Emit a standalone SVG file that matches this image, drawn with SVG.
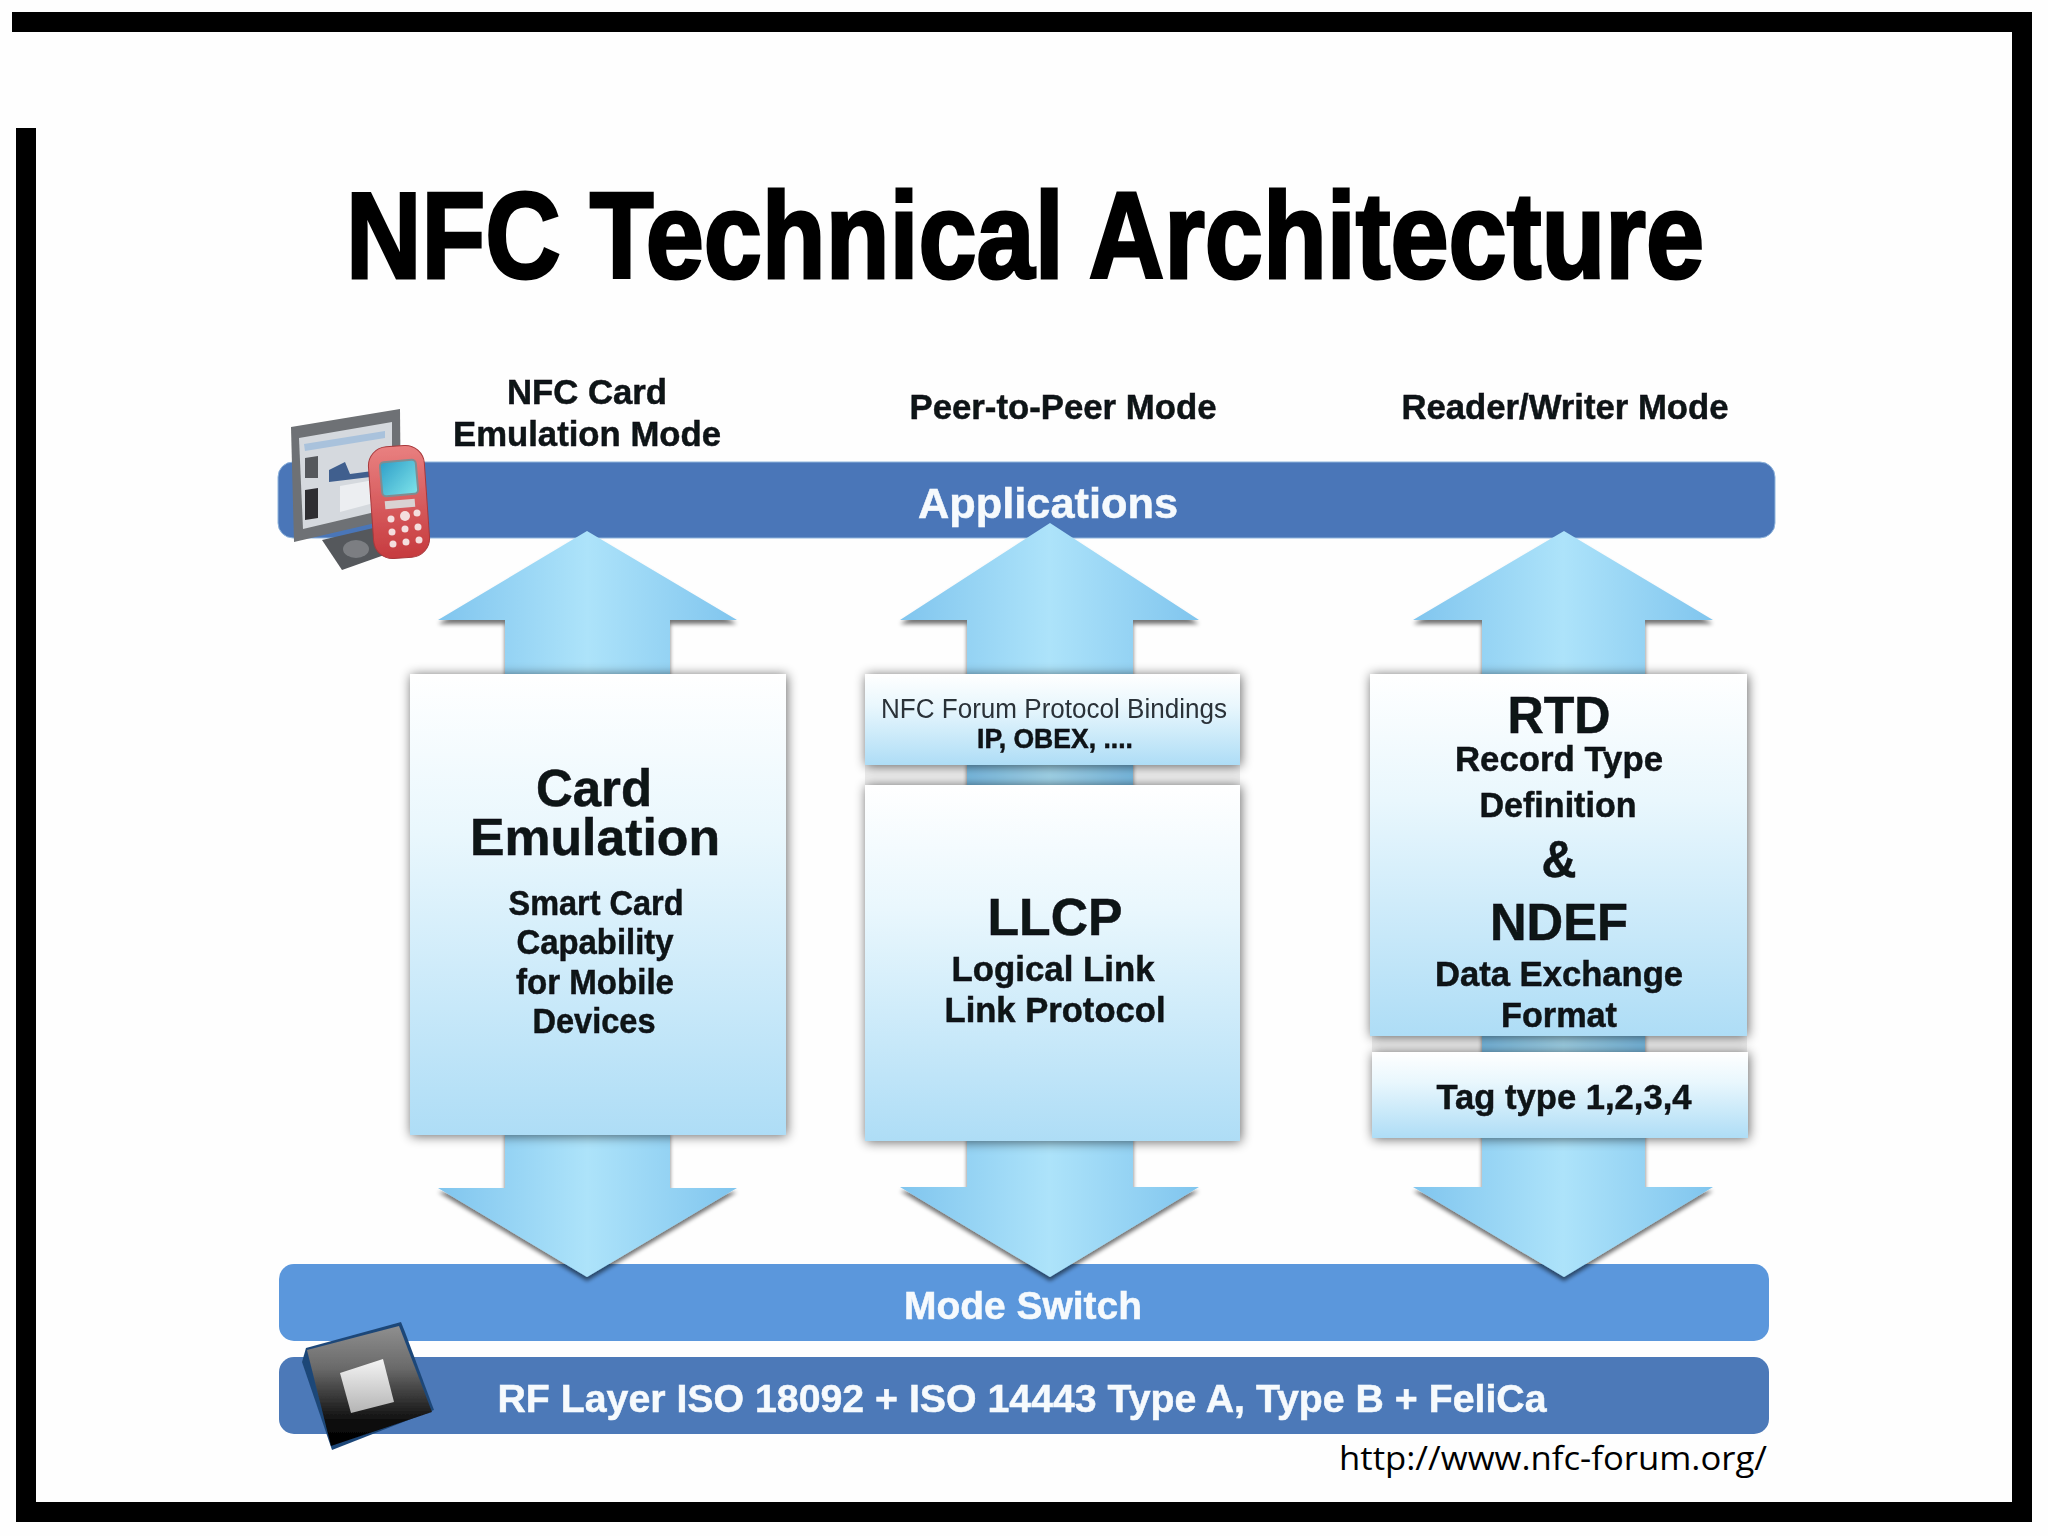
<svg xmlns="http://www.w3.org/2000/svg" width="2048" height="1536" viewBox="0 0 2048 1536">
<defs>
<linearGradient id="boxFill" x1="0" y1="0" x2="0" y2="1"><stop offset="0" stop-color="#ffffff"/><stop offset="0.35" stop-color="#e9f7fd"/><stop offset="1" stop-color="#aeddf6"/></linearGradient>
<linearGradient id="arrowFill" x1="0" y1="0" x2="1" y2="0"><stop offset="0" stop-color="#80c5ee"/><stop offset="0.5" stop-color="#ade3fa"/><stop offset="1" stop-color="#80c5ee"/></linearGradient>
<linearGradient id="chipFill" x1="0" y1="0" x2="0" y2="1"><stop offset="0" stop-color="#8f8f8f"/><stop offset="0.35" stop-color="#6a6a6a"/><stop offset="0.8" stop-color="#0c0c0c"/><stop offset="1" stop-color="#000"/></linearGradient>
<linearGradient id="chipCore" x1="0" y1="0" x2="0" y2="1"><stop offset="0" stop-color="#f4f4f4"/><stop offset="1" stop-color="#b4b4b4"/></linearGradient>
<linearGradient id="phoneFill" x1="0" y1="0" x2="0" y2="1"><stop offset="0" stop-color="#e98080"/><stop offset="1" stop-color="#c63a3e"/></linearGradient>
<linearGradient id="phoneScreen" x1="0" y1="0" x2="1" y2="1"><stop offset="0" stop-color="#2f9fc8"/><stop offset="1" stop-color="#7fe4ea"/></linearGradient>
<filter id="boxShadow" x="-10%" y="-15%" width="120%" height="130%"><feGaussianBlur in="SourceAlpha" stdDeviation="6"/><feOffset dx="1" dy="1"/><feComponentTransfer><feFuncA type="linear" slope="0.6"/></feComponentTransfer><feMerge><feMergeNode/><feMergeNode in="SourceGraphic"/></feMerge></filter>
<filter id="arrowShadow" x="-10%" y="-10%" width="120%" height="120%"><feGaussianBlur in="SourceAlpha" stdDeviation="2"/><feOffset dy="4"/><feComponentTransfer><feFuncA type="linear" slope="0.55"/></feComponentTransfer><feMerge><feMergeNode/><feMergeNode in="SourceGraphic"/></feMerge></filter>
<filter id="soft" x="-5%" y="-5%" width="110%" height="110%"><feGaussianBlur stdDeviation="0.7"/></filter>
</defs>
<style>
text{font-family:"Liberation Sans",Arial,sans-serif;font-weight:700;text-anchor:middle;fill:#0e1216;stroke:#0e1216;stroke-width:.5px}
.w{fill:#f6fafd;stroke:#f6fafd}
.t34{font-size:35px}
.t50{font-size:52px}
.reg{font-weight:400;fill:#2a3138;stroke:none}
.title{font-size:122px;fill:#000;stroke:#000;stroke-width:3px}
.url{font-family:"Open Sans",sans-serif;font-weight:400;font-size:33px;fill:#000;stroke:none;text-anchor:start}
.shade{fill:#000;opacity:.07}
</style>
<rect width="2048" height="1536" fill="#fefefe"/>
<g id="frame" fill="#000">
<rect x="12" y="12" width="2020" height="20"/>
<rect x="2012" y="12" width="20" height="1510"/>
<rect x="16" y="1502" width="2016" height="20"/>
<rect x="16" y="128" width="20" height="1394"/>
</g>
<text class="title" x="1025" y="278" textLength="1358" lengthAdjust="spacingAndGlyphs">NFC Technical Architecture</text>

<g id="mode-labels" filter="url(#soft)">
<text class="t34" x="587" y="404" textLength="160" lengthAdjust="spacingAndGlyphs">NFC Card</text>
<text class="t34" x="587" y="446" textLength="268" lengthAdjust="spacingAndGlyphs">Emulation Mode</text>
<text class="t34" x="1063" y="419" textLength="307" lengthAdjust="spacingAndGlyphs">Peer-to-Peer Mode</text>
<text class="t34" x="1565" y="419" textLength="327" lengthAdjust="spacingAndGlyphs">Reader/Writer Mode</text>
</g>

<g id="applications">
<rect x="278" y="462" width="1497" height="76" rx="15" fill="#4a76b8" stroke="#8fb4dc" stroke-width="1"/>
<text class="w" x="1048" y="518" font-size="43" textLength="260" lengthAdjust="spacingAndGlyphs" filter="url(#soft)">Applications</text>
</g>
<g id="mode-switch">
<rect x="279" y="1264" width="1490" height="77" rx="15" fill="#5b97dc"/>
<text class="w" x="1023" y="1319" font-size="39" textLength="238" lengthAdjust="spacingAndGlyphs" filter="url(#soft)">Mode Switch</text>
</g>
<g id="rf-layer">
<rect x="279" y="1357" width="1490" height="77" rx="15" fill="#4c79b8"/>
<text class="w" x="1022" y="1412" font-size="39" textLength="1049" lengthAdjust="spacingAndGlyphs" filter="url(#soft)">RF Layer ISO 18092 + ISO 14443 Type A, Type B + FeliCa</text>
</g>

<g id="connectors" fill="url(#arrowFill)" filter="url(#arrowShadow)">
<path d="M587 531L737 620H670V680H505V620H438Z"/>
<path d="M1050 523L1199 620H1133V680H967V620H900Z"/>
<path d="M1564 531L1713 620H1645V680H1482V620H1413Z"/>
<path d="M505 1130H670V1188H737L587 1277L438 1188H505Z"/>
<path d="M967 1135H1133V1187H1199L1050 1277L900 1187H967Z"/>
<path d="M1482 1130H1645V1187H1713L1564 1277L1413 1187H1482Z"/>
<rect x="967" y="760" width="166" height="30"/>
<rect x="1482" y="1030" width="163" height="28"/>
</g>

<g id="card-emulation">
<rect x="410" y="674" width="376" height="461" fill="url(#boxFill)" filter="url(#boxShadow)"/>
<g filter="url(#soft)">
<text class="t50" x="594" y="806" textLength="116" lengthAdjust="spacingAndGlyphs">Card</text>
<text class="t50" x="595" y="855" textLength="250" lengthAdjust="spacingAndGlyphs">Emulation</text>
<text class="t34" x="596" y="915" textLength="175" lengthAdjust="spacingAndGlyphs">Smart Card</text>
<text class="t34" x="595" y="954" textLength="157" lengthAdjust="spacingAndGlyphs">Capability</text>
<text class="t34" x="595" y="994" textLength="158" lengthAdjust="spacingAndGlyphs">for Mobile</text>
<text class="t34" x="594" y="1033" textLength="123" lengthAdjust="spacingAndGlyphs">Devices</text>
</g>
</g>
<g id="protocol-bindings">
<rect class="shade" x="865" y="765" width="375" height="20"/>
<rect x="865" y="674" width="375" height="91" fill="url(#boxFill)" filter="url(#boxShadow)"/>
<g filter="url(#soft)">
<text class="reg" x="1054" y="718" font-size="27" textLength="346" lengthAdjust="spacingAndGlyphs">NFC Forum Protocol Bindings</text>
<text x="1055" y="748" font-size="27" textLength="156" lengthAdjust="spacingAndGlyphs">IP, OBEX, ....</text>
</g>
</g>
<g id="llcp">
<rect x="865" y="785" width="375" height="356" fill="url(#boxFill)" filter="url(#boxShadow)"/>
<g filter="url(#soft)">
<text class="t50" x="1055" y="935" textLength="135" lengthAdjust="spacingAndGlyphs">LLCP</text>
<text class="t34" x="1053" y="981" textLength="203" lengthAdjust="spacingAndGlyphs">Logical Link</text>
<text class="t34" x="1055" y="1022" textLength="221" lengthAdjust="spacingAndGlyphs">Link Protocol</text>
</g>
</g>
<g id="rtd-ndef">
<rect class="shade" x="1372" y="1036" width="375" height="16"/>
<rect x="1370" y="674" width="377" height="362" fill="url(#boxFill)" filter="url(#boxShadow)"/>
<g filter="url(#soft)">
<text class="t50" x="1559" y="733" textLength="103" lengthAdjust="spacingAndGlyphs">RTD</text>
<text class="t34" x="1559" y="771" textLength="208" lengthAdjust="spacingAndGlyphs">Record Type</text>
<text class="t34" x="1558" y="817" textLength="157" lengthAdjust="spacingAndGlyphs">Definition</text>
<text class="t50" x="1559" y="877" textLength="35" lengthAdjust="spacingAndGlyphs">&amp;</text>
<text class="t50" x="1559" y="940" textLength="138" lengthAdjust="spacingAndGlyphs">NDEF</text>
<text class="t34" x="1559" y="986" textLength="248" lengthAdjust="spacingAndGlyphs">Data Exchange</text>
<text class="t34" x="1559" y="1027" textLength="116" lengthAdjust="spacingAndGlyphs">Format</text>
</g>
</g>
<g id="tag-type">
<rect x="1372" y="1052" width="376" height="86" fill="url(#boxFill)" filter="url(#boxShadow)"/>
<text class="t34" x="1564" y="1109" textLength="255" lengthAdjust="spacingAndGlyphs" filter="url(#soft)">Tag type 1,2,3,4</text>
</g>

<g id="device-icon" filter="url(#soft)">
<path d="M322 540L382 526L390 553L342 570Z" fill="#55585c"/>
<ellipse cx="356" cy="549" rx="13" ry="9" fill="#7b7e82"/>
<path d="M291 427L400 409L401 517L294 542Z" fill="#6e7174"/>
<path d="M299 438L392 422L392 508L303 529Z" fill="#d5d9de"/>
<path d="M304 444L385 431L385 438L305 451Z" fill="#a9c2dc"/>
<path d="M305 458L318 456V478H305Z" fill="#55585c"/>
<path d="M305 490L318 488V518L305 520Z" fill="#2f2f33"/>
<path d="M329 470L345 462L350 474L395 468V474L329 482Z" fill="#3f5f8e"/>
<path d="M340 486L385 478L385 500L340 512Z" fill="#eceef1"/>
<rect x="371" y="446" width="56" height="112" rx="19" fill="url(#phoneFill)" stroke="#a8393c" stroke-width="1" transform="rotate(-4 399 502)"/>
<rect x="381" y="461" width="36" height="34" rx="4" fill="url(#phoneScreen)" stroke="#7f8d92" stroke-width="2" transform="rotate(-5 399 478)"/>
<rect x="385" y="500" width="30" height="8" fill="#d9d2d2" transform="rotate(-5 400 504)"/>
<g fill="#f4dede">
<circle cx="391" cy="519" r="3.5"/><circle cx="405" cy="516" r="5"/><circle cx="417" cy="513" r="3.5"/>
<circle cx="392" cy="532" r="3.5"/><circle cx="405" cy="529" r="3.5"/><circle cx="418" cy="527" r="3.5"/>
<circle cx="393" cy="544" r="3.5"/><circle cx="406" cy="542" r="3.5"/><circle cx="419" cy="540" r="3.5"/>
</g>
</g>

<g id="chip-icon" filter="url(#soft)">
<path d="M302 1362L306 1348L401 1322L405 1332L434 1410L332 1450Z" fill="#1f4778"/>
<path d="M307 1350L399 1326L432 1412L331 1446Z" fill="url(#chipFill)"/>
<path d="M340 1373L383 1359L394 1402L351 1413Z" fill="url(#chipCore)"/>
</g>

<text class="url" x="1339" y="1470" textLength="428" lengthAdjust="spacingAndGlyphs">http://www.nfc-forum.org/</text>
</svg>
